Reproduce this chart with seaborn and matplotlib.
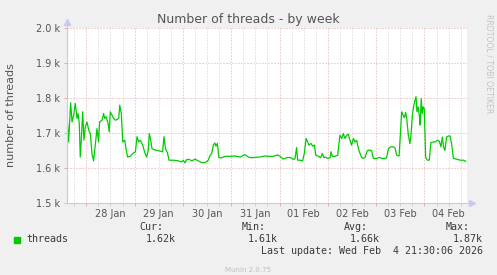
import matplotlib
matplotlib.use("Agg")
import matplotlib.pyplot as plt
import matplotlib.dates as mdates
from matplotlib.ticker import MultipleLocator, FuncFormatter
import pandas as pd
import seaborn as sns

# ---------------- data ----------------
start_time = "2026-01-27 14:00"
hours = [
    0.4, 1.2, 2.2, 2.9, 3.7, 4.5, 5.4, 5.9, 6.5, 7.0, 7.5, 8.2, 8.8, 9.5, 10.3,
    11.2, 12.0, 12.8, 13.6, 14.5, 15.3, 16.1, 16.6, 17.8, 18.6, 19.1, 19.8, 20.8,
    21.4, 21.9, 22.8, 23.6, 24.4, 25.2, 26.1, 26.6, 27.4, 28.1, 29.1, 29.7, 30.5,
    31.9, 33.0, 34.4, 35.2, 36.0, 36.8,
    38.0, 39.2, 40.0, 40.8, 41.3, 42.0, 42.6, 44.1, 45.8, 47.9, 48.6, 49.3, 50.3,
    51.1, 53.2, 55.7, 57.4, 58.2, 59.0, 59.9, 61.2, 62.4, 64.0, 65.7, 67.3, 69.0,
    70.6, 71.5, 72.3, 73.1, 73.9, 74.4, 75.1, 75.9, 77.3, 78.9, 81.4,
    83.9, 86.4, 88.8, 90.5, 91.8, 93.8, 96.3, 98.8, 100.4, 102.9, 105.1, 106.2,
    107.9, 109.6, 111.2, 112.9, 113.7, 114.5, 115.0, 116.2, 117.5, 118.3, 119.2,
    120.0, 120.6, 121.6, 122.5, 123.3, 124.0, 125.3, 126.4, 127.3, 128.1, 128.9,
    129.9, 131.1, 131.6, 132.2, 133.6, 134.9,
    135.6, 136.0, 136.9, 137.7, 138.5, 139.4, 140.2, 141.0, 141.8, 142.7, 143.5,
    144.3, 145.2, 146.0, 146.8, 147.6, 148.5, 149.6, 150.6, 151.8, 152.6, 154.3,
    155.6, 156.8, 158.4, 159.2, 160.1, 161.2, 162.6,
    163.4, 164.2, 165.4, 166.0, 166.7, 167.5, 168.0, 168.7, 169.2, 170.0, 170.8,
    171.3, 172.0, 172.6, 173.3, 173.8, 174.3, 174.9, 175.6, 175.9, 176.4, 176.9,
    177.4, 177.9, 178.6, 179.4, 180.4, 181.2, 182.4, 183.5, 184.5, 185.4, 186.2,
    186.9, 187.5, 188.2, 189.0, 189.9, 190.7, 191.5, 192.4, 194.0, 195.7, 197.3,
    198.5,
]
threads = [
    1751, 1675, 1787, 1732, 1751, 1785, 1742, 1756, 1728, 1632, 1680, 1761, 1680,
    1718, 1732, 1709, 1699, 1642, 1621, 1671, 1713, 1675, 1732, 1737, 1756, 1742,
    1747, 1728, 1704, 1761, 1751, 1742, 1737, 1739, 1742, 1780, 1756, 1675, 1680,
    1656, 1632, 1634, 1642, 1647, 1690, 1675, 1680,
    1666, 1642, 1632, 1652, 1699, 1680, 1656, 1652, 1650, 1647, 1690, 1656, 1644,
    1623, 1623, 1621, 1618, 1623, 1615, 1625, 1625, 1621, 1626, 1621, 1616, 1616,
    1623, 1637, 1642, 1666, 1672, 1663, 1671, 1630, 1630, 1634, 1634,
    1635, 1632, 1639, 1632, 1630, 1631, 1632, 1635, 1634, 1634, 1638, 1634, 1626,
    1630, 1631, 1625, 1628, 1659, 1623, 1623, 1621, 1642, 1685, 1675, 1666, 1671,
    1663, 1666, 1637, 1634, 1630, 1642, 1630, 1632, 1628, 1630, 1647, 1634, 1634,
    1637,
    1675, 1694, 1685, 1699, 1685, 1694, 1697, 1680, 1666, 1685, 1675, 1680, 1656,
    1642, 1631, 1628, 1631, 1650, 1652, 1650, 1628, 1628, 1631, 1628, 1628, 1630,
    1656, 1661, 1661,
    1658, 1637, 1635, 1694, 1761, 1751, 1744, 1759, 1742, 1694, 1670, 1694, 1751,
    1775, 1794, 1804, 1761, 1775, 1742, 1723, 1799, 1756, 1775, 1770, 1632, 1623,
    1623, 1673, 1675, 1675, 1680, 1677, 1661, 1689, 1661, 1651, 1689, 1692, 1692,
    1670, 1628, 1626, 1623, 1623, 1620,
]
series_name = "threads"
stat_names = ["Cur:", "Min:", "Avg:", "Max:"]
stat_values = ["1.62k", "1.61k", "1.66k", "1.87k"]
title = "Number of threads - by week"
y_label = "number of threads"
last_update = "Last update: Wed Feb  4 21:30:06 2026"
footer = "Munin 2.0.75"
side_text = "RRDTOOL / TOBI OETIKER"
view_start_h, view_end_h = 0.25, 199.0
y_min, y_max = 1500, 2000

# ---------------- build ----------------
t0 = pd.Timestamp(start_time)
df = pd.DataFrame({
    "time": [t0 + pd.Timedelta(hours=h) for h in hours],
    "threads": threads,
})

W, H = 497, 275
fig = plt.figure(figsize=(W / 100, H / 100), dpi=100, facecolor="#f0f0f0")
ax_l, ax_r, ax_t, ax_b = 66.7, 466.7, 28.0, 203.3
ax = fig.add_axes([ax_l / W, 1 - ax_b / H, (ax_r - ax_l) / W, (ax_b - ax_t) / H])
ax.set_facecolor("white")

green = "#00cc00"
sns.lineplot(data=df, x="time", y="threads", ax=ax, color=green, lw=0.9,
             estimator=None, sort=True, zorder=5)

ax.set_xlim(t0 + pd.Timedelta(hours=view_start_h), t0 + pd.Timedelta(hours=view_end_h))
ax.set_ylim(y_min, y_max)

red_grid = "#eaa6a6"
gray_grid = "#cfcfcf"
dots = (0, (1, 2))

ax.yaxis.set_major_locator(MultipleLocator(100))
ax.yaxis.set_major_formatter(FuncFormatter(lambda v, p: f"{v/1000:.1f} k"))
ax.xaxis.set_major_locator(mdates.DayLocator())
ax.xaxis.set_major_formatter(FuncFormatter(lambda v, p: ""))
ax.xaxis.set_minor_locator(mdates.HourLocator(byhour=[0, 6, 12, 18]))

def minor_fmt(v, p):
    d = mdates.num2date(v)
    return d.strftime("%d %b") if d.hour == 12 else ""

ax.xaxis.set_minor_formatter(FuncFormatter(minor_fmt))

ax.grid(False)
ax.yaxis.grid(True, which="major", color=red_grid, linestyle=dots, lw=0.72)
ax.xaxis.grid(True, which="major", color=red_grid, linestyle=dots, lw=0.72)
ax.xaxis.grid(True, which="minor", color=gray_grid, linestyle=dots, lw=0.72)
ax.set_axisbelow(True)

txt_col = "#555555"
ax.tick_params(axis="y", which="major", length=2, width=0.7, color=red_grid,
               labelsize=7, labelcolor=txt_col, pad=3)
ax.tick_params(axis="x", which="major", length=2, width=0.7, color=red_grid,
               labelsize=7, labelcolor=txt_col, pad=1.8)
ax.tick_params(axis="x", which="minor", length=2, width=0.7, color=gray_grid,
               labelsize=7, labelcolor=txt_col, pad=1.8)
ax.set_xlabel("")
ax.set_ylabel("")
for s in ax.spines.values():
    s.set_visible(False)

axis_col = "#c8c8f4"
ax.plot([0, 0], [0, 1.03], transform=ax.transAxes, color=axis_col, lw=0.8,
        clip_on=False, zorder=6)
ax.plot([-0.004, 1.01], [0, 0], transform=ax.transAxes, color=axis_col, lw=0.8,
        clip_on=False, zorder=6)
ax.plot([0], [1.035], transform=ax.transAxes, marker="^", ms=4.5, color=axis_col,
        mec=axis_col, clip_on=False, zorder=6)
ax.plot([1.013], [0], transform=ax.transAxes, marker=">", ms=4.5, color=axis_col,
        mec=axis_col, clip_on=False, zorder=6)

# ---------------- texts ----------------
def fx(px):
    return px / W

def fy(py):
    return 1 - py / H

fig.text(fx(248.5), fy(19), title, ha="center", va="center", fontsize=9,
         color=txt_col, family="DejaVu Sans")
fig.text(fx(11.5), fy(115), y_label, ha="center", va="center", rotation=90,
         fontsize=8, color=txt_col, family="DejaVu Sans")
fig.text(fx(488.5), fy(14), side_text, ha="center", va="top", rotation=270,
         fontsize=5.6, color="#c4c4c4", family="DejaVu Sans")

mono = "DejaVu Sans Mono"
leg_col = "#3a3a3a"
mono_size = 7.2
header_right = [163.3, 265.7, 367.7, 470.0]
value_right = [176.0, 278.0, 380.0, 482.7]
for name, xr in zip(stat_names, header_right):
    fig.text(fx(xr), fy(227), name, ha="right", va="center", fontsize=mono_size,
             color=leg_col, family=mono)
for val, xr in zip(stat_values, value_right):
    fig.text(fx(xr), fy(239.2), val, ha="right", va="center", fontsize=mono_size,
             color=leg_col, family=mono)
fig.patches.append(plt.Rectangle((fx(14), fy(243.3)), 6 / W, 6 / H,
                                 transform=fig.transFigure, color=green))
fig.text(fx(26.7), fy(239.2), series_name, ha="left", va="center",
         fontsize=mono_size, color=leg_col, family=mono)
fig.text(fx(482.7), fy(251.5), last_update, ha="right", va="center",
         fontsize=mono_size, color=leg_col, family=mono)
fig.text(fx(248), fy(270.5), footer, ha="center", va="center", fontsize=5,
         color="#c0c0c0", family="DejaVu Sans")

fig.savefig("out.png", dpi=100, facecolor=fig.get_facecolor())
